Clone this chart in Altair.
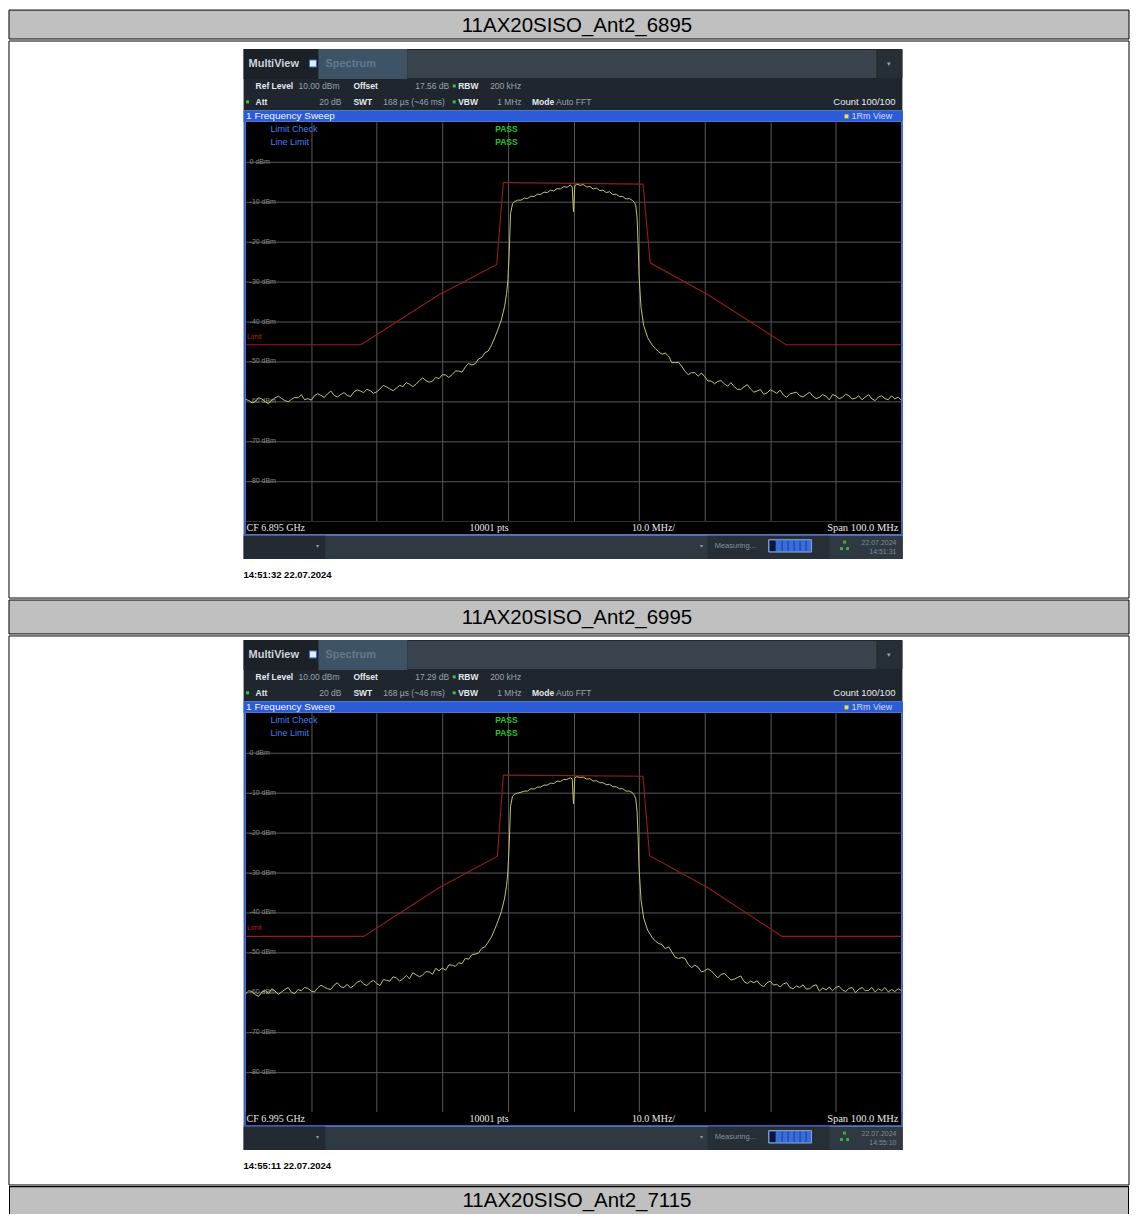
import altair as alt
import pandas as pd

# ---------------- data ----------------
TITLES = ["11AX20SISO_Ant2_6895", "11AX20SISO_Ant2_6995", "11AX20SISO_Ant2_7115"]
CENTER = ["CF 6.895 GHz", "CF 6.995 GHz"]
OFFSETS = ["17.56 dB", "17.29 dB"]
STAMPS = ["14:51:32  22.07.2024", "14:55:11  22.07.2024"]
STATUS_DATE = ["22.07.2024", "22.07.2024"]
STATUS_TIME = ["14:51:31", "14:55:10"]

X_GRID = [-40, -30, -20, -10, 0, 10, 20, 30, 40]
Y_TICKS = [0, -10, -20, -30, -40, -50, -60, -70, -80]
Y_LABELS = ["0 dBm", "-10 dBm", "-20 dBm", "-30 dBm", "-40 dBm", "-50 dBm", "-60 dBm", "-70 dBm", "-80 dBm"]

FREQ = [
    -50.0, -49.5, -49.0, -48.5, -48.0, -47.5, -47.0, -46.5, -46.0, -45.5,
    -45.0, -44.5, -44.0, -43.5, -43.0, -42.5, -42.0, -41.5, -41.0, -40.5,
    -40.0, -39.5, -39.0, -38.5, -38.0, -37.5, -37.0, -36.5, -36.0, -35.5,
    -35.0, -34.5, -34.0, -33.5, -33.0, -32.5, -32.0, -31.5, -31.0, -30.5,
    -30.0, -29.5, -29.0, -28.5, -28.0, -27.5, -27.0, -26.5, -26.0, -25.5,
    -25.0, -24.5, -24.0, -23.5, -23.0, -22.5, -22.0, -21.5, -21.0, -20.5,
    -20.0, -19.5, -19.0, -18.5, -18.0, -17.5, -17.0, -16.5, -16.0, -15.5,
    -15.0, -14.5, -14.0, -13.5, -13.0,
    -12.5, -12.0, -11.5, -11.0, -10.5, -10.2, -10.0, -9.8, -9.6, -9.3,
    -9.0, -8.5, -8.0, -7.5, -7.0, -6.5, -6.0, -5.5, -5.0, -4.5,
    -4.0, -3.5, -3.0, -2.5, -2.0, -1.5, -1.0, -0.5,
    -0.2, 0.0, 0.2,
    0.5, 1.0, 1.5, 2.0, 2.5, 3.0, 3.5, 4.0, 4.5, 5.0,
    5.5, 6.0, 6.5, 7.0, 7.5, 8.0, 8.5, 9.0,
    9.3, 9.5, 9.7, 9.85, 10.0, 10.3, 10.7, 11.3, 12.0, 12.5, 13.0,
    13.5, 14.0, 14.5, 15.0, 15.5, 16.0, 16.5, 17.0, 17.5, 18.0,
    18.5, 19.0, 19.5, 20.0, 20.5, 21.0, 21.5, 22.0, 22.5, 23.0,
    23.5, 24.0, 24.5, 25.0, 25.5, 26.0, 26.5, 27.0, 27.5, 28.0,
    28.5, 29.0, 29.5, 30.0, 30.5, 31.0, 31.5, 32.0, 32.5, 33.0,
    33.5, 34.0, 34.5, 35.0, 35.5, 36.0, 36.5, 37.0, 37.5, 38.0,
    38.5, 39.0, 39.5, 40.0, 40.5, 41.0, 41.5, 42.0, 42.5, 43.0,
    43.5, 44.0, 44.5, 45.0, 45.5, 46.0, 46.5, 47.0, 47.5, 48.0,
    48.5, 49.0, 49.5, 50.0,
]

LEVEL_6895 = [
    -59.5, -59.8, -60.4, -60.0, -59.1, -59.4, -60.1, -60.6, -59.7, -59.1,
    -58.7, -59.3, -59.8, -60.1, -59.5, -59.0, -59.1, -58.3, -59.6, -59.3,
    -59.7, -58.6, -58.1, -58.5, -59.0, -58.1, -57.4, -58.5, -58.9, -58.3,
    -57.8, -58.5, -58.8, -57.7, -57.1, -57.4, -57.8, -57.0, -57.3, -58.0,
    -57.6, -56.9, -56.0, -56.4, -56.9, -57.3, -56.7, -56.0, -56.3, -55.3,
    -55.7, -56.3, -55.7, -54.8, -54.1, -54.8, -55.2, -54.9, -54.0, -54.3,
    -53.3, -53.4, -54.0, -53.3, -52.4, -52.4, -52.7, -51.4, -50.5, -50.9,
    -50.6, -49.4, -49.0, -47.8, -47.4,
    -45.9, -44.0, -41.9, -39.6, -36.2, -33.0, -29.5, -22.7, -13.0, -10.5,
    -10.0, -9.6, -9.6, -9.1, -9.2, -8.6, -8.7, -8.1, -8.2, -7.6,
    -7.7, -7.1, -7.3, -6.7, -6.8, -6.2, -6.4, -5.8,
    -6.2, -12.5, -6.0,
    -5.6, -5.9, -5.7, -6.3, -6.2, -6.8, -6.6, -7.2, -7.1, -7.7,
    -7.5, -8.2, -8.1, -8.7, -8.7, -9.3, -9.2, -9.7,
    -10.2, -11.0, -14.0, -20.5, -28.5, -36.5, -41.0, -44.0, -45.9, -46.8, -47.6,
    -48.2, -47.9, -48.7, -50.3, -50.3, -50.2, -51.2, -52.5, -53.3, -52.8,
    -52.8, -53.7, -52.9, -53.8, -54.9, -54.9, -55.6, -55.0, -54.8, -55.6,
    -56.2, -55.3, -56.3, -57.0, -57.0, -56.4, -55.8, -56.9, -57.7, -57.4,
    -57.0, -58.2, -57.9, -57.1, -57.5, -58.0, -57.2, -58.4, -59.0, -58.1,
    -57.9, -57.7, -58.6, -58.9, -58.3, -57.7, -58.7, -59.3, -59.0, -58.3,
    -58.7, -59.6, -58.3, -58.6, -59.3, -59.0, -58.2, -58.6, -59.4, -59.2,
    -58.6, -59.6, -58.9, -58.3, -59.4, -59.8, -58.9, -58.6, -59.3, -59.6,
    -58.6, -59.4, -58.9, -59.7,
]

LEVEL_6995 = [
    -60.4, -59.6, -59.8, -60.6, -61.0, -59.9, -59.6, -60.3, -59.1, -59.7,
    -60.5, -59.9, -59.3, -58.8, -60.0, -60.3, -59.3, -59.6, -58.8, -59.0,
    -59.7, -59.9, -58.9, -58.2, -58.7, -59.1, -59.3, -58.2, -57.6, -58.6,
    -58.8, -58.0, -58.9, -58.3, -57.5, -57.1, -57.9, -58.3, -57.5, -57.0,
    -57.8, -58.3, -56.8, -57.0, -57.2, -56.1, -56.4, -57.2, -56.6, -55.8,
    -56.6, -55.1, -55.6, -56.1, -55.7, -54.8, -54.9, -55.5, -54.0, -54.6,
    -53.9, -54.5, -53.1, -53.2, -53.5, -52.6, -52.8, -51.5, -51.7, -50.6,
    -50.4, -50.2, -49.0, -48.6, -47.4,
    -46.1, -44.2, -42.1, -39.8, -36.4, -33.2, -29.6, -22.9, -13.4, -10.9,
    -10.4, -10.1, -9.9, -9.6, -9.6, -9.0, -9.1, -8.6, -8.6, -8.1,
    -8.1, -7.6, -7.7, -7.1, -7.2, -6.7, -6.7, -6.3,
    -6.5, -12.8, -6.3,
    -6.0, -6.2, -6.1, -6.6, -6.5, -7.1, -7.0, -7.5, -7.5, -8.0,
    -7.9, -8.5, -8.5, -9.0, -9.0, -9.6, -9.6, -10.0,
    -10.7, -11.6, -14.8, -21.0, -28.9, -36.9, -41.4, -44.4, -46.3, -47.2, -47.8,
    -48.0, -49.1, -48.6, -49.9, -51.2, -51.5, -51.3, -51.5, -53.0, -53.8,
    -53.2, -53.7, -54.9, -54.6, -54.1, -54.6, -55.5, -56.4, -55.5, -55.3,
    -56.1, -56.9, -56.7, -56.3, -55.9, -57.3, -57.8, -57.2, -57.6, -57.1,
    -58.1, -58.6, -57.6, -57.2, -58.2, -58.0, -58.7, -57.9, -57.6, -58.8,
    -59.1, -58.4, -58.8, -58.1, -59.2, -59.1, -58.4, -58.1, -59.7, -58.9,
    -59.4, -58.7, -59.6, -58.8, -58.5, -59.4, -59.8, -59.0, -58.8, -60.1,
    -59.2, -58.8, -59.6, -59.5, -58.8, -59.9, -59.1, -59.6, -58.8, -59.9,
    -59.3, -59.8, -59.1, -59.6,
]

LIMIT_FREQ_6895 = [-50.0, -32.4, -20.7, -11.7, -10.7, 10.6, 11.7, 20.7, 32.4, 50.0]
LIMIT_6895 = [-45.8, -45.8, -33.5, -25.7, -5.2, -5.6, -25.3, -33.5, -45.8, -45.8]
LIMIT_FREQ_6995 = [-50.0, -32.0, -20.5, -11.6, -10.7, 10.6, 11.6, 20.5, 31.8, 50.0]
LIMIT_6995 = [-46.0, -46.0, -33.8, -25.9, -5.6, -5.9, -25.8, -33.8, -46.0, -46.0]

# ---------------- layout / style ----------------
W, H = 657, 400          # spectrum plot area
L, R = 237, 228          # page space left / right of the plot area
UI = "Liberation Sans"
GRID = "#585858"
BLUE = "#2b5bd6"
BOLDTXT = "#e6eaee"
VALTXT = "#99a2ab"
ONE = pd.DataFrame({"k": [0]})


def box(x0, x1, y0, y1, fill, stroke=None, sw=1.0, opacity=1.0):
    props = dict(fill=fill, fillOpacity=opacity)
    if stroke is not None:
        props.update(stroke=stroke, strokeWidth=sw)
    else:
        props.update(strokeWidth=0)
    return alt.Chart(ONE).mark_rect(**props).encode(
        x=alt.value(x0), x2=alt.value(x1), y=alt.value(y0), y2=alt.value(y1))


def label(x, y, s, size=8.5, color=BOLDTXT, bold=False, align="left", font=UI, baseline="middle"):
    return alt.Chart(ONE).mark_text(
        align=align, baseline=baseline, font=font, fontSize=size,
        fontWeight="bold" if bold else "normal", color=color,
    ).encode(x=alt.value(x), y=alt.value(y), text=alt.value(s))


def title_bar(text, h, closed=True):
    layers = []
    if closed:
        layers.append(box(-L, W + R, 0, h, "#c0c0c0", stroke="black", sw=1))
    else:
        layers.append(box(-L, W + R, 0, h, "#c0c0c0"))
        layers.append(box(-L, W + R, 0, 1.2, "black"))
        layers.append(box(-L, -L + 1, 0, h, "black"))
        layers.append(box(W + R - 1, W + R, 0, h, "black"))
    layers.append(label((W + R - L) / 2 + 8, h / 2 + 1, text, size=20.5, color="black", align="center"))
    return alt.layer(*layers).properties(width=W, height=h)


def spectrum_cell(i, levels, lim_f, lim_v, top, bottom):
    xs = alt.Scale(domain=[-50, 50], nice=False, zero=False)
    ys = alt.Scale(domain=[-90, 10], nice=False, zero=False)
    xax = alt.Axis(values=X_GRID, grid=True, gridColor=GRID, gridWidth=1, labels=False,
                   ticks=False, domain=False, title=None)
    yax = alt.Axis(values=Y_TICKS, grid=True, gridColor=GRID, gridWidth=1, labels=False,
                   ticks=False, domain=False, title=None)

    trace = pd.DataFrame({"f": FREQ, "lvl": levels})
    limit = pd.DataFrame({"f": lim_f, "lvl": lim_v})
    ticks = pd.DataFrame({"v": Y_TICKS, "t": Y_LABELS})

    layers = [
        # cell border
        box(-L, W + R, top, bottom, "white", stroke="black", sw=1, opacity=0),
        # instrument header
        box(-2, W + 1, -73, -11.5, "#1f262d"),
        box(-2, 73, -73, -43, "#1b2127"),
        box(73, 162, -73, -43, "#3f5367"),
        box(162, 632, -72, -44, "#39434d"),
        box(633, W + 1, -72, -44, "#262e36"),
        label(3, -58, "MultiView", size=11, color="#cdd4db", bold=True),
        box(64, 71, -62, -55, "#e6eef8", stroke="#3a6fd8", sw=1),
        label(80, -58, "Spectrum", size=11, color="#61798f", bold=True),
        label(645, -58, "\u25be", size=7, color="#9aa4ae", align="center"),
        # info row 1
        label(10, -36, "Ref Level", bold=True),
        label(53, -36, "10.00 dBm", color=VALTXT),
        label(108, -36, "Offset", bold=True),
        label(170, -36, OFFSETS[i], color=VALTXT),
        box(207.5, 210.5, -37.5, -34.5, "#3cc43c"),
        label(213, -36, "RBW", bold=True),
        label(245, -36, "200 kHz", color=VALTXT),
        # info row 2
        box(0.5, 3.5, -21.5, -18.5, "#3cc43c"),
        label(10, -20, "Att", bold=True),
        label(96, -20, "20 dB", color=VALTXT, align="right"),
        label(108, -20, "SWT", bold=True),
        label(138, -20, "168 \u00b5s (~46 ms)", color=VALTXT),
        box(207.5, 210.5, -21.5, -18.5, "#3cc43c"),
        label(213, -20, "VBW", bold=True),
        label(252, -20, "1 MHz", color=VALTXT),
        label(287, -20, "Mode", bold=True),
        label(311, -20, "Auto FFT", color=VALTXT),
        label(651, -20, "Count 100/100", size=9.5, color=BOLDTXT, align="right"),
        # blue window title bar
        box(-2, W + 1, -11.5, 0, BLUE),
        label(0.5, -5.5, "1 Frequency Sweep", size=10, color="#f2f5ff"),
        box(600, 604, -7.5, -3.5, "#f0e040"),
        label(607, -5.5, "1Rm View", size=9, color="#cfdcff"),
        # window frame
        box(-2, 0, -11.5, 414, BLUE),
        box(W, W + 1.5, -11.5, 414, BLUE),
        # footer
        box(0, W, 400, 413, "black"),
        box(-2, W + 1.5, 413, 414.5, BLUE),
        label(1, 407, CENTER[i], size=10, color="#e8e8e8", font="Liberation Serif"),
        label(244, 407, "10001 pts", size=10, color="#e8e8e8", font="Liberation Serif", align="center"),
        label(387, 407, "10.0 MHz/", size=10, color="#e8e8e8", font="Liberation Serif"),
        label(654, 407, "Span 100.0 MHz", size=10.5, color="#e8e8e8", font="Liberation Serif", align="right"),
        # status bar
        box(-2, W + 1.5, 414.5, 438, "#2f3942"),
        box(-2, 80, 414.5, 438, "#232a31"),
        label(72, 425, "\u25be", size=6, color="#8d98a3", align="center"),
        box(463, 585, 414.5, 438, "#262e36"),
        label(457, 425, "\u25be", size=6, color="#8d98a3", align="center"),
        label(470, 425, "Measuring...", size=7.5, color="#85929f"),
        box(524, 567, 418.5, 431, "#3a6ddc", stroke="#9fb8ee", sw=0.8),
        box(525, 531, 419.5, 430, "#0c1734"),
        box(537, 538, 419.5, 430, "#1d3c88"),
        box(543, 544, 419.5, 430, "#1d3c88"),
        box(549, 550, 419.5, 430, "#1d3c88"),
        box(555, 556, 419.5, 430, "#1d3c88"),
        box(561, 562, 419.5, 430, "#1d3c88"),
        box(598.5, 601.5, 419.5, 422.5, "#3fae3f"),
        box(595.5, 598.5, 426, 429, "#3fae3f"),
        box(601.5, 604.5, 426, 429, "#3fae3f"),
        label(652, 421.5, STATUS_DATE[i], size=7, color="#7d8a97", align="right"),
        label(652, 431, STATUS_TIME[i], size=7, color="#7d8a97", align="right"),
        # time stamp under the screenshot
        label(-2, 454, STAMPS[i], size=9.5, color="black", bold=True),
        # plot contents
        alt.Chart(ticks).mark_text(align="left", baseline="middle", font=UI, fontSize=7,
                                   color="#8a8a8a").encode(
            x=alt.value(4), y=alt.Y("v:Q", scale=ys, axis=yax), text="t:N"),
        alt.Chart(limit).mark_line(color="#961c1c", strokeWidth=1.1).encode(
            x=alt.X("f:Q", scale=xs, axis=xax), y=alt.Y("lvl:Q", scale=ys, axis=yax)),
        alt.Chart(trace).mark_line(color="#c4c46c", strokeWidth=1).encode(
            x=alt.X("f:Q", scale=xs, axis=xax), y=alt.Y("lvl:Q", scale=ys, axis=yax)),
        label(1.5, 216, "Limit", size=7, color="#b3221f"),
        label(25, 7, "Limit Check", size=9, color="#4a7cf0"),
        label(25, 20, "Line Limit", size=9, color="#4a7cf0"),
        label(250, 7, "PASS", size=8.5, color="#27c427", bold=True),
        label(250, 20, "PASS", size=8.5, color="#27c427", bold=True),
    ]
    return alt.layer(*layers).properties(
        width=W, height=H, view=alt.ViewBackground(fill="black", strokeWidth=0))


t1 = title_bar(TITLES[0], 29)
c1 = spectrum_cell(0, LEVEL_6895, LIMIT_FREQ_6895, LIMIT_6895, -81, 477)
t2 = title_bar(TITLES[1], 34)
c2 = spectrum_cell(1, LEVEL_6995, LIMIT_FREQ_6995, LIMIT_6995, -77, 473)
t3 = title_bar(TITLES[2], 28, closed=False)

chart = (
    alt.vconcat(t1, c1, t2, c2, t3, spacing=0)
    .properties(padding=0)
    .configure_view(strokeWidth=0)
    .configure_concat(spacing=0)
)

chart.save("out.html", embed_options={"renderer": "svg", "actions": False})
